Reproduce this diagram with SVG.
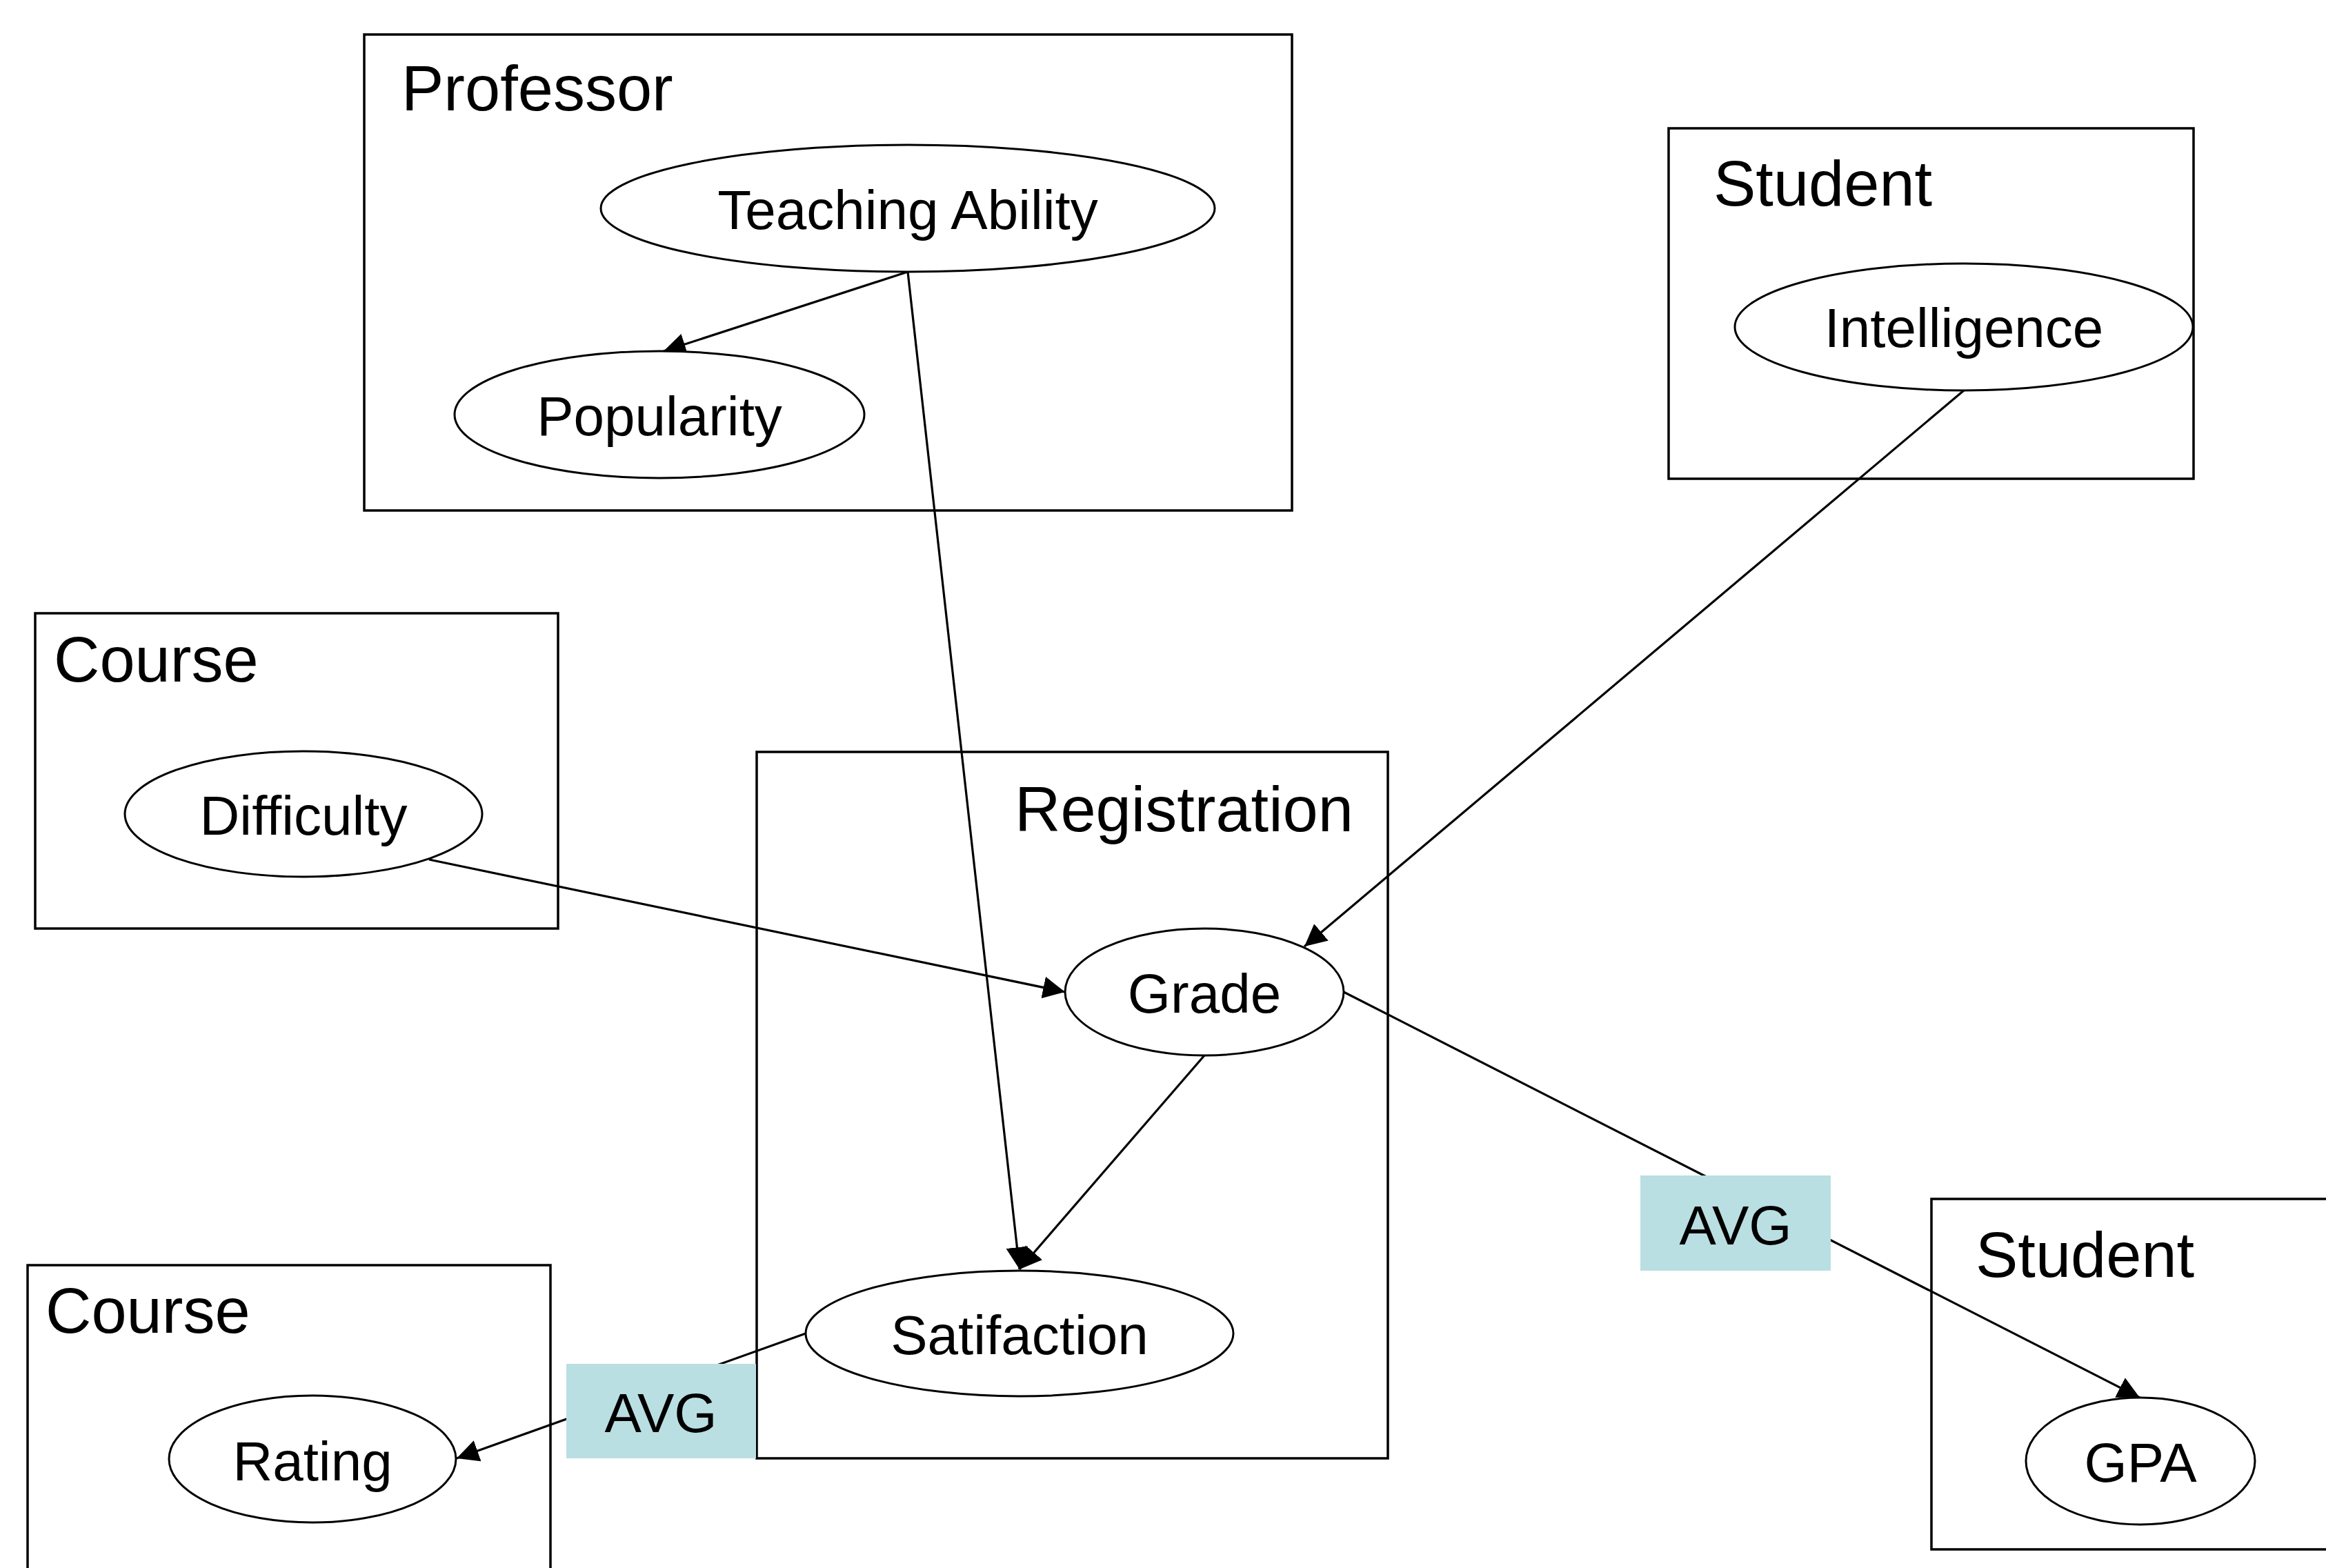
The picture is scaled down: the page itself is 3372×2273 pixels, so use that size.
<svg xmlns="http://www.w3.org/2000/svg" width="3372" height="2273" viewBox="0 0 3372 2273">
<style>
.plate{fill:none;stroke:#000;stroke-width:3.5}
.node{fill:#fff;stroke:#000;stroke-width:3}
.avg{fill:#B9DFE2;stroke:none}
.edge{fill:none;stroke:#000;stroke-width:3.2}
.title{font-family:"Liberation Sans",Arial,sans-serif;font-size:92px;fill:#000}
.label{font-family:"Liberation Sans",Arial,sans-serif;font-size:80px;fill:#000;text-anchor:middle}
</style>
<defs>
<marker id="arrow" markerUnits="userSpaceOnUse" markerWidth="34" markerHeight="34" refX="32" refY="16" orient="auto" viewBox="0 0 34 34">
<path d="M0,0 L32,16 L0,32 z" fill="#000"/>
</marker>
</defs>
<rect width="3372" height="2273" fill="#fff"/>

<g id="plate-professor">
<rect class="plate" x="528" y="50" width="1345" height="690"/>
<text class="title" x="582" y="160">Professor</text>
</g>
<g id="plate-student-top">
<rect class="plate" x="2419" y="186" width="761" height="508"/>
<text class="title" x="2484" y="298">Student</text>
</g>
<g id="plate-course-top">
<rect class="plate" x="51" y="889" width="758" height="457"/>
<text class="title" x="78" y="988">Course</text>
</g>
<g id="plate-registration">
<rect class="plate" x="1097" y="1090" width="915" height="1024"/>
<text class="title" x="1471" y="1205">Registration</text>
</g>
<g id="plate-course-bottom">
<rect class="plate" x="40" y="1834" width="758" height="457"/>
<text class="title" x="66" y="1932">Course</text>
</g>
<g id="plate-student-bottom">
<rect class="plate" x="2800" y="1738" width="761" height="508"/>
<text class="title" x="2864" y="1851">Student</text>
</g>

<g id="connectors">
<line class="edge" x1="1316" y1="394" x2="962" y2="509" marker-end="url(#arrow)"/>
<line class="edge" x1="1316" y1="394" x2="1478" y2="1840" marker-end="url(#arrow)"/>
<line class="edge" x1="2847" y1="566" x2="1891" y2="1372" marker-end="url(#arrow)"/>
<line class="edge" x1="622" y1="1246" x2="1544" y2="1438" marker-end="url(#arrow)"/>
<line class="edge" x1="1746" y1="1530" x2="1478" y2="1840" marker-end="url(#arrow)"/>
<line class="edge" x1="1948" y1="1438" x2="3102" y2="2026" marker-end="url(#arrow)"/>
<line class="edge" x1="1168" y1="1933" x2="662" y2="2114" marker-end="url(#arrow)"/>
</g>

<g id="node-teaching-ability">
<ellipse class="node" cx="1316" cy="302" rx="445" ry="92"/>
<text class="label" x="1316" y="332">Teaching Ability</text>
</g>
<g id="node-popularity">
<ellipse class="node" cx="956" cy="601" rx="297" ry="92"/>
<text class="label" x="956" y="631">Popularity</text>
</g>
<g id="node-intelligence">
<ellipse class="node" cx="2847" cy="474" rx="332" ry="92"/>
<text class="label" x="2847" y="503">Intelligence</text>
</g>
<g id="node-difficulty">
<ellipse class="node" cx="440" cy="1180" rx="259" ry="91"/>
<text class="label" x="440" y="1210">Difficulty</text>
</g>
<g id="node-grade">
<ellipse class="node" cx="1746" cy="1438" rx="202" ry="92"/>
<text class="label" x="1746" y="1468">Grade</text>
</g>
<g id="node-satifaction">
<ellipse class="node" cx="1478" cy="1933" rx="310" ry="91"/>
<text class="label" x="1478" y="1963">Satifaction</text>
</g>
<g id="node-rating">
<ellipse class="node" cx="453" cy="2115" rx="208" ry="92"/>
<text class="label" x="453" y="2146">Rating</text>
</g>
<g id="node-gpa">
<ellipse class="node" cx="3103" cy="2118" rx="166" ry="92"/>
<text class="label" x="3103" y="2148">GPA</text>
</g>
<g id="node-avg-gpa">
<rect class="avg" x="2378" y="1704" width="276" height="138"/>
<text class="label" x="2516" y="1804">AVG</text>
</g>
<g id="node-avg-rating">
<rect class="avg" x="821" y="1977" width="275" height="137"/>
<text class="label" x="958" y="2076">AVG</text>
</g>
</svg>
